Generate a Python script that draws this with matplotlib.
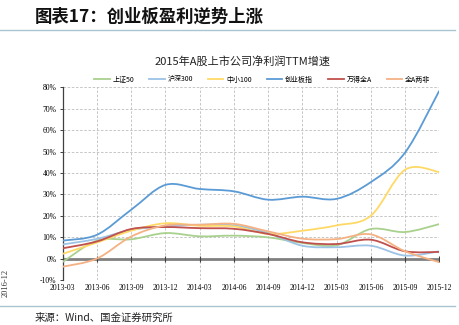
import numpy as np
import matplotlib.pyplot as plt
from matplotlib.path import Path
from matplotlib.patches import PathPatch
from matplotlib.lines import Line2D

plt.rcParams.update({
    "font.family": ["Noto Sans CJK SC", "DejaVu Sans"],
    "axes.unicode_minus": False,
})

# -------------------- DATA --------------------
quarters = ["2013-03", "2013-06", "2013-09", "2013-12", "2014-03", "2014-06",
            "2014-09", "2014-12", "2015-03", "2015-06", "2015-09", "2015-12"]

sz50 = [-1.6, 8.4, 9.0, 11.9, 10.4, 10.7, 9.9, 7.3, 6.2, 13.8, 12.4, 16.1]
hs300 = [6.6, 9.2, 13.4, 15.0, 15.8, 15.5, 11.9, 6.0, 5.3, 6.0, 1.4, 3.4]
zx100 = [2.2, 7.5, 13.0, 16.5, 15.3, 15.0, 11.5, 13.0, 15.5, 20.0, 41.5, 40.4]
cyb = [8.4, 11.1, 22.8, 34.4, 32.5, 31.4, 27.5, 28.9, 27.9, 35.7, 49.5, 78.4]
wdqa = [4.8, 8.0, 13.8, 14.7, 14.2, 13.9, 11.5, 7.6, 6.8, 8.8, 3.4, 3.1]
qalf = [-3.8, 0.0, 10.3, 15.5, 15.8, 16.2, 12.7, 9.3, 9.1, 11.3, 3.4, -1.7]

series_names = ["上证50", "沪深300", "中小100", "创业板指", "万得全A", "全A两非"]
series_vals = [sz50, hs300, zx100, cyb, wdqa, qalf]
colors = ["#A9D18E", "#9DC3E6", "#FFD966", "#5B9BD5", "#C0504D", "#F4B183"]

yticks = [-10, 0, 10, 20, 30, 40, 50, 60, 70, 80]


def smooth_path(xs, ys):
    # Excel-like smoothed line as cubic Bezier segments
    pts = np.column_stack([xs, ys]).astype(float)
    n = len(pts)
    verts = [pts[0]]
    codes = [Path.MOVETO]
    for i in range(n - 1):
        p0 = pts[i - 1] if i > 0 else pts[i]
        p1 = pts[i]
        p2 = pts[i + 1]
        p3 = pts[i + 2] if i + 2 < n else pts[i + 1]
        c1 = p1 + (p2 - p0) / 6.0
        c2 = p2 - (p3 - p1) / 6.0
        verts += [c1, c2, p2]
        codes += [Path.CURVE4] * 3
    return Path(verts, codes)


fig = plt.figure(figsize=(4.6, 3.25), dpi=100)
ax = fig.add_axes([0.1363, 0.1385, 0.8187, 0.593])

x = np.arange(len(quarters))
for name, vals, c in zip(series_names, series_vals, colors):
    ax.add_patch(PathPatch(smooth_path(x, vals), facecolor="none",
                           edgecolor=c, lw=1.3, zorder=4))

ax.set_xlim(0, len(quarters) - 1)
ax.set_ylim(-10, 80)

# grid
for xv in x[1:]:
    ax.axvline(xv, color="#BDBDBD", lw=0.6, ls=(0, (3, 2)), zorder=1)
for yv in yticks:
    ax.axhline(yv, color="#BDBDBD", lw=0.6, ls=(0, (3, 2)), zorder=1)
ax.axhline(0, color="#808080", lw=2.0, zorder=3)
ax.plot(x, np.zeros(len(x)), ls="none", marker="|", ms=4, mew=0.8,
        color="#404040", zorder=3)

for s in ["top", "right", "bottom"]:
    ax.spines[s].set_visible(False)
ax.spines["left"].set_color("#404040")
ax.spines["left"].set_linewidth(0.9)

ax.set_yticks(yticks)
ax.set_yticklabels([f"{v}%" for v in yticks], family="Liberation Serif",
                   fontsize=5.5)
ax.set_xticks(x)
ax.set_xticklabels(quarters, family="Liberation Serif", fontsize=5.5)
ax.tick_params(axis="y", length=2.5, width=0.7, color="#404040", pad=2)
ax.tick_params(axis="x", length=0, pad=3)

handles = [Line2D([], [], color=c, lw=1.3) for c in colors]
ax.legend(handles, series_names, loc="center", bbox_to_anchor=(0.53, 1.04),
          ncol=6, frameon=False, fontsize=5, handlelength=2.2,
          handletextpad=0.4, columnspacing=2.2)

fig.text(0.528, 0.81, "2015年A股上市公司净利润TTM增速", ha="center", va="center",
         fontsize=8, color="#222222")

# header / footer
fig.text(0.075, 0.948, "图表17：创业板盈利逆势上涨", ha="left", va="center",
         fontsize=12.5, fontweight="bold", style="italic", color="#111111")
fig.add_artist(Line2D([0.0, 0.99], [0.908, 0.908], color="#A9C4D2", lw=1.0))
fig.add_artist(Line2D([0.0, 0.99], [0.058, 0.058], color="#A9C4D2", lw=1.0))
fig.text(0.075, 0.022, "来源：Wind、国金证券研究所", ha="left", va="center",
         fontsize=7.5, color="#222222")

# small rotated date at the left edge
fig.text(0.013, 0.13, "2016-12", rotation=90, ha="center", va="center",
         fontsize=6, family="Liberation Serif", color="#333333")

fig.savefig("out.png", dpi=100)
